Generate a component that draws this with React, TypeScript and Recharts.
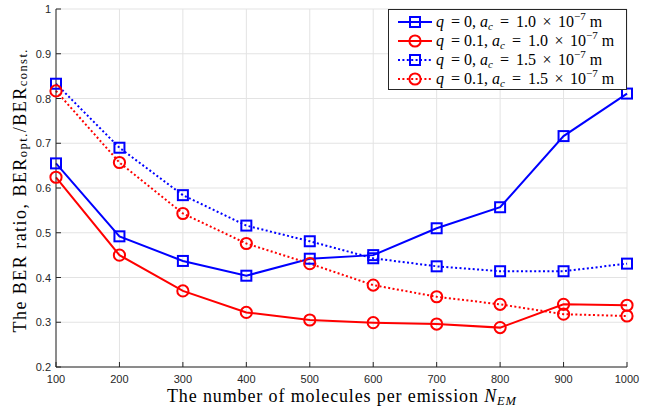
import React from "react";
import { LineChart, Line, XAxis, YAxis, CartesianGrid } from "recharts";

const molecules = [100, 200, 300, 400, 500, 600, 700, 800, 900, 1000];

// q = 0, a_c = 1.0e-7 m
const q0Ac10 = [0.655, 0.492, 0.437, 0.404, 0.442, 0.45, 0.51, 0.557, 0.716, 0.811];
// q = 0.1, a_c = 1.0e-7 m
const q01Ac10 = [0.624, 0.45, 0.37, 0.322, 0.305, 0.299, 0.296, 0.288, 0.34, 0.338];
// q = 0, a_c = 1.5e-7 m
const q0Ac15 = [0.833, 0.69, 0.584, 0.516, 0.481, 0.443, 0.425, 0.414, 0.414, 0.431];
// q = 0.1, a_c = 1.5e-7 m
const q01Ac15 = [0.817, 0.657, 0.543, 0.476, 0.431, 0.383, 0.357, 0.34, 0.318, 0.314];

const xTicks = [100, 200, 300, 400, 500, 600, 700, 800, 900, 1000];
const yTicks = [0.2, 0.3, 0.4, 0.5, 0.6, 0.7, 0.8, 0.9, 1];

const data = molecules.map((n, i) => ({
  n,
  q0Ac10: q0Ac10[i],
  q01Ac10: q01Ac10[i],
  q0Ac15: q0Ac15[i],
  q01Ac15: q01Ac15[i],
}));

const BLUE = "#0000ff";
const RED = "#ff0000";
const AXIS = "#262626";
const DOTTED = "2 2.4";

const series = [
  { key: "q0Ac10", color: BLUE, marker: "square", dash: undefined, q: "0", ac: "1.0" },
  { key: "q01Ac10", color: RED, marker: "circle", dash: undefined, q: "0.1", ac: "1.0" },
  { key: "q0Ac15", color: BLUE, marker: "square", dash: DOTTED, q: "0", ac: "1.5" },
  { key: "q01Ac15", color: RED, marker: "circle", dash: DOTTED, q: "0.1", ac: "1.5" },
];

const Marker = ({ cx, cy, color, kind }: any) =>
  kind === "square" ? (
    <rect x={cx - 5} y={cy - 5} width={10} height={10} fill="none" stroke={color} strokeWidth={2} />
  ) : (
    <circle cx={cx} cy={cy} r={5.6} fill="none" stroke={color} strokeWidth={2} />
  );

const makeDot = (color: string, kind: string) => (props: any) => {
  const { cx, cy, index } = props;
  if (cx == null || cy == null) return <g key={`d-${index}`} />;
  return <Marker key={`d-${index}`} cx={cx} cy={cy} color={color} kind={kind} />;
};

const BottomTick = ({ x, y, payload }: any) => (
  <g>
    <line x1={x} y1={y} x2={x} y2={y - 5} stroke={AXIS} strokeWidth={1} />
    <text x={x} y={y + 16} textAnchor="middle" fontFamily="Liberation Sans, Arial" fontSize={11} fill={AXIS}>
      {payload.value}
    </text>
  </g>
);

const LeftTick = ({ x, y, payload }: any) => (
  <g>
    <line x1={x} y1={y} x2={x + 5} y2={y} stroke={AXIS} strokeWidth={1} />
    <text x={x - 5} y={y + 4} textAnchor="end" fontFamily="Liberation Sans, Arial" fontSize={11} fill={AXIS}>
      {payload.value}
    </text>
  </g>
);

const TopTick = ({ x, y }: any) => <line x1={x} y1={y} x2={x} y2={y + 5} stroke={AXIS} strokeWidth={1} />;
const RightTick = ({ x, y }: any) => <line x1={x} y1={y} x2={x - 5} y2={y} stroke={AXIS} strokeWidth={1} />;

const XLabel = ({ viewBox }: any) => (
  <text
    x={viewBox.x + viewBox.width / 2}
    y={viewBox.y + 35}
    textAnchor="middle"
    fontFamily="Liberation Serif, serif"
    fontSize={18}
    textLength={349}
    lengthAdjust="spacing"
    fill="#000"
  >
    The number of molecules per emission{" "}
    <tspan fontStyle="italic">N</tspan>
    <tspan fontStyle="italic" fontSize={12.5} dy={3}>EM</tspan>
  </text>
);

const YLabel = ({ viewBox }: any) => {
  const cx = 20;
  const cy = viewBox.y + viewBox.height / 2 + 3;
  return (
    <text
      x={cx}
      y={cy}
      transform={`rotate(-90 ${cx} ${cy})`}
      textAnchor="middle"
      dominantBaseline="central"
      fontFamily="Liberation Serif, serif"
      fontSize={18}
      textLength={283}
      lengthAdjust="spacing"
      fill="#000"
    >
      The BER ratio, BER
      <tspan fontSize={12.5} dy={3}>opt.</tspan>
      <tspan dy={-3}>/BER</tspan>
      <tspan fontSize={12.5} dy={3}>const.</tspan>
    </text>
  );
};

const LegendBox = () => (
  <svg width={239} height={81} style={{ display: "block" }}>
    <rect x={0.5} y={0.5} width={238} height={80} fill="#fff" stroke={AXIS} strokeWidth={1} />
    {series.map((s, i) => {
      const y = 13 + i * 19;
      return (
        <g key={s.key}>
          <line x1={10} y1={y} x2={44} y2={y} stroke={s.color} strokeWidth={2} strokeDasharray={s.dash} />
          <Marker cx={27} cy={y} color={s.color} kind={s.marker} />
          <text x={48} y={y + 5} fontFamily="Liberation Serif, serif" fontSize={16} fill="#000" style={{ whiteSpace: "pre" }}>
            <tspan fontStyle="italic">q</tspan>
            <tspan dx={3}>{` = ${s.q}, `}</tspan>
            <tspan fontStyle="italic">a</tspan>
            <tspan fontStyle="italic" fontSize={11} dy={3}>c</tspan>
            <tspan dy={-3} dx={3}>{" ="}</tspan>
            <tspan dx={3}>{` ${s.ac}`}</tspan>
            <tspan dx={2.5}>{" ×"}</tspan>
            <tspan dx={2.5}>{" 10"}</tspan>
            <tspan fontSize={11} dy={-7}>−7</tspan>
            <tspan dy={7}>{" m"}</tspan>
          </text>
        </g>
      );
    })}
  </svg>
);

const App = () => (
  <div style={{ position: "absolute", left: 0, top: 0, width: 651, height: 409, background: "#fff" }}>
    <LineChart width={651} height={409} data={data} margin={{ top: 9, right: 24, bottom: 0, left: 0 }}>
      <CartesianGrid stroke="#e3e3e3" strokeWidth={1} />
      <XAxis
        dataKey="n"
        type="number"
        domain={[100, 1000]}
        ticks={xTicks}
        height={42}
        tickSize={0}
        tickMargin={0}
        axisLine={{ stroke: AXIS }}
        tick={<BottomTick />}
        label={<XLabel />}
      />
      <YAxis
        type="number"
        domain={[0.2, 1]}
        ticks={yTicks}
        width={56}
        tickSize={0}
        tickMargin={0}
        axisLine={{ stroke: AXIS }}
        tick={<LeftTick />}
        label={<YLabel />}
      />
      <XAxis
        xAxisId="top"
        orientation="top"
        dataKey="n"
        type="number"
        domain={[100, 1000]}
        ticks={xTicks}
        height={0}
        tickSize={0}
        tickMargin={0}
        axisLine={{ stroke: AXIS }}
        tick={<TopTick />}
      />
      <YAxis
        yAxisId="right"
        orientation="right"
        type="number"
        domain={[0.2, 1]}
        ticks={yTicks}
        width={0}
        tickSize={0}
        tickMargin={0}
        axisLine={{ stroke: AXIS }}
        tick={<RightTick />}
      />
      {series.map((s) => (
        <Line
          key={s.key}
          dataKey={s.key}
          stroke={s.color}
          strokeWidth={2}
          strokeDasharray={s.dash}
          dot={makeDot(s.color, s.marker)}
          activeDot={false}
          isAnimationActive={false}
        />
      ))}
    </LineChart>
    <div style={{ position: "absolute", top: 9, left: 388 }}>
      <LegendBox />
    </div>
  </div>
);

export default App;
